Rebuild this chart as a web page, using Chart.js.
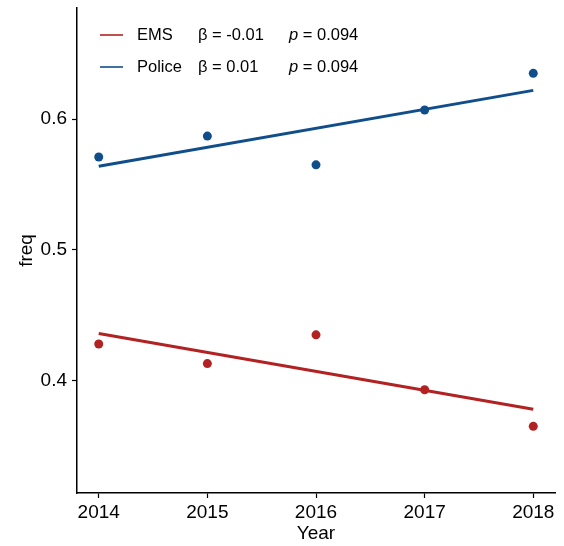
<!DOCTYPE html>
<html lang="en">

<head>
    <meta charset="UTF-8">
    <style>
        body {
            margin: 0;
            background-color: white;
        }
    </style>
    <title>freq by Year</title>
</head>

<body>
    <div>
        <canvas id="myChart" width="564" height="546"></canvas>
    </div>
    <script src="https://cdn.jsdelivr.net/npm/chart.js"></script>
    <script>
        const years = [2014, 2015, 2016, 2017, 2018];
        const emsFreq = [0.428, 0.413, 0.435, 0.393, 0.365];
        const policeFreq = [0.571, 0.587, 0.565, 0.607, 0.635];
        // fitted trend lines, start and end values
        const fitYears = [2014, 2018];
        const emsFit = [0.436, 0.378];
        const policeFit = [0.564, 0.622];
        const yTicks = [0.4, 0.5, 0.6];
        const groups = ['EMS', 'Police'];
        const betas = ['β = -0.01', 'β = 0.01'];
        const pValues = ['0.094', '0.094'];

        const RED = '#B22222';
        const BLUE = '#104E8B';
        const FONT = "'Liberation Sans', Arial, sans-serif";

        const pts = (xs, ys) => xs.map((x, i) => ({ x: x, y: ys[i] }));

        // legend with slope and p-value columns
        const statsLegend = {
            id: 'statsLegend',
            afterDraw(chart) {
                const c = chart.ctx;
                const colors = [RED, BLUE];
                const rowsY = [35, 67];
                c.save();
                c.textBaseline = 'middle';
                c.textAlign = 'left';
                groups.forEach((g, i) => {
                    const y = rowsY[i];
                    c.strokeStyle = colors[i];
                    c.lineWidth = 1.6;
                    c.beginPath();
                    c.moveTo(100, y);
                    c.lineTo(123, y);
                    c.stroke();
                    c.fillStyle = '#000';
                    c.font = '16.5px ' + FONT;
                    c.fillText(g, 137, y);
                    c.fillText(betas[i], 198, y);
                    c.font = 'italic 16.5px ' + FONT;
                    c.fillText('p', 289, y);
                    const pw = c.measureText('p').width;
                    c.font = '16.5px ' + FONT;
                    c.fillText(' = ' + pValues[i], 289 + pw, y);
                });
                c.restore();
            }
        };

        new Chart(document.getElementById('myChart'), {
            type: 'scatter',
            data: {
                datasets: [
                    {
                        label: 'EMS fit',
                        type: 'line',
                        data: pts(fitYears, emsFit),
                        borderColor: RED,
                        borderWidth: 3,
                        pointRadius: 0,
                        fill: false,
                        order: 1
                    },
                    {
                        label: 'Police fit',
                        type: 'line',
                        data: pts(fitYears, policeFit),
                        borderColor: BLUE,
                        borderWidth: 3,
                        pointRadius: 0,
                        fill: false,
                        order: 1
                    },
                    {
                        label: 'EMS',
                        data: pts(years, emsFreq),
                        backgroundColor: RED,
                        borderWidth: 0,
                        pointRadius: 4.5,
                        order: 2
                    },
                    {
                        label: 'Police',
                        data: pts(years, policeFreq),
                        backgroundColor: BLUE,
                        borderWidth: 0,
                        pointRadius: 4.5,
                        order: 2
                    }
                ]
            },
            options: {
                responsive: false,
                animation: false,
                layout: {
                    padding: { top: 8, right: 9, left: 0, bottom: 0 }
                },
                plugins: {
                    legend: { display: false },
                    tooltip: { enabled: false }
                },
                scales: {
                    x: {
                        type: 'linear',
                        min: 2013.8,
                        max: 2018.2,
                        afterBuildTicks: s => { s.ticks = years.map(v => ({ value: v })); },
                        afterFit: s => { s.height = 53; },
                        grid: {
                            drawOnChartArea: false,
                            drawTicks: true,
                            tickLength: 5,
                            tickWidth: 1.2,
                            tickColor: '#000'
                        },
                        border: { display: true, color: '#000', width: 1.5 },
                        ticks: {
                            color: '#000',
                            padding: 3,
                            font: { family: FONT, size: 19 },
                            callback: v => String(v)
                        },
                        title: {
                            display: true,
                            text: 'Year',
                            color: '#000',
                            font: { family: FONT, size: 19 },
                            padding: { top: 0, bottom: 1 }
                        }
                    },
                    y: {
                        min: 0.314,
                        max: 0.685,
                        afterBuildTicks: s => { s.ticks = yTicks.map(v => ({ value: v })); },
                        afterFit: s => {
                            s.width = 77;
                            s.paddingTop = 0;
                            s.paddingBottom = 0;
                        },
                        grid: {
                            drawOnChartArea: false,
                            drawTicks: true,
                            tickLength: 5,
                            tickWidth: 1.2,
                            tickColor: '#000'
                        },
                        border: { display: true, color: '#000', width: 1.5 },
                        ticks: {
                            color: '#000',
                            padding: 5,
                            font: { family: FONT, size: 19 },
                            callback: v => v.toFixed(1)
                        },
                        title: {
                            display: true,
                            text: 'freq',
                            color: '#000',
                            font: { family: FONT, size: 19 },
                            padding: { top: 15, bottom: 0 }
                        }
                    }
                }
            },
            plugins: [statsLegend]
        });
    </script>
</body>

</html>
